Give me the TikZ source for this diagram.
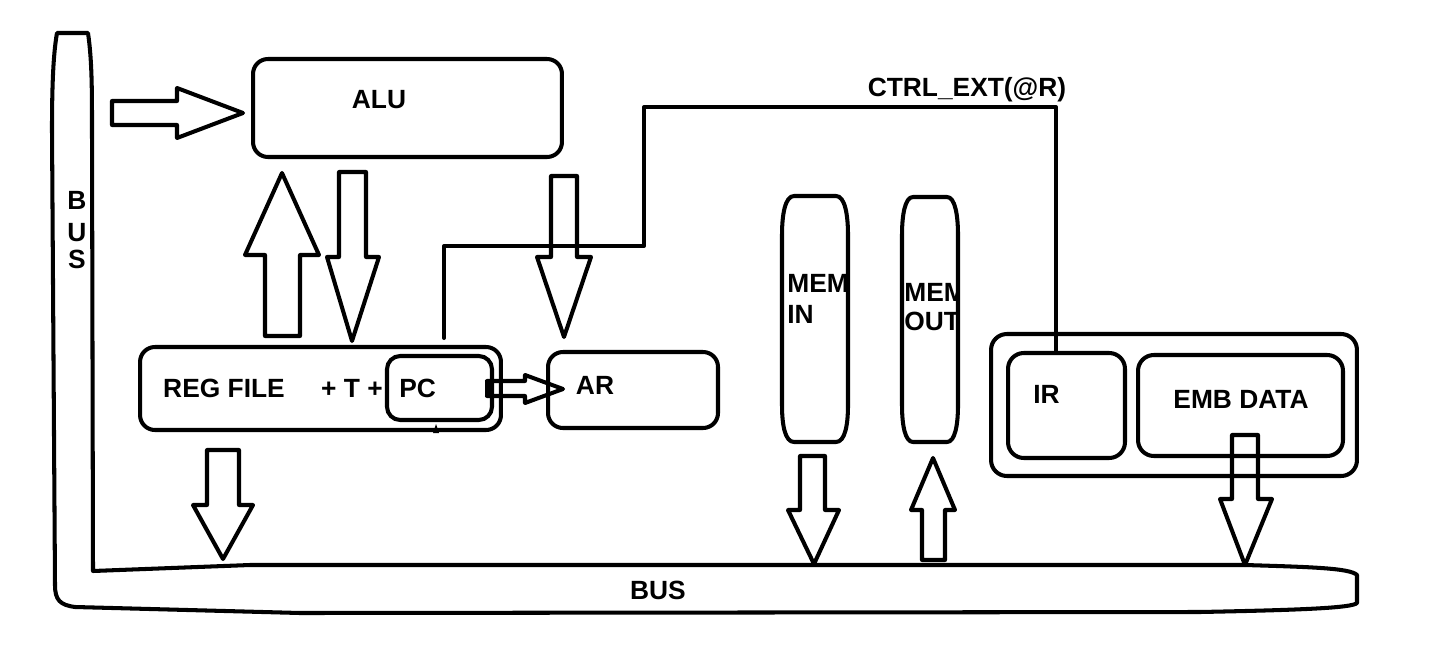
\documentclass[tikz,border=0pt]{standalone}
\usepackage{fontspec}
\setmainfont{Liberation Sans}
\begin{document}
\begin{tikzpicture}[x=0.02cm,y=-0.02cm,
  ln/.style={line width=2.3pt,line join=round,line cap=round},
  barrow/.style={ln},
  box/.style={draw,line width=2.3pt,rounded corners=#1,inner sep=0pt},
  box/.default=8pt,
  lbl/.style={inner sep=0pt,text height=10.7pt,text depth=0pt,font=\fontsize{15}{17}\selectfont\bfseries}]
\useasboundingbox (0,0) rectangle (1454,659);

% ---- bus (L-shaped) ----
\draw[ln] (57,33) -- (88,33) .. controls (92,60) and (92,90) .. (92,130) -- (93,571)
  -- (250,565) -- (1245,565) .. controls (1310,567) and (1350,568) .. (1357,575)
  -- (1357,603) .. controls (1352,608) and (1300,610) .. (1200,612) -- (300,613)
  -- (75,607) .. controls (60,605) and (55,600) .. (55,585) -- (52,130)
  .. controls (52,90) and (53,55) .. (57,33) -- cycle;
\node[lbl] (busB) at (77,200) {B};
\node[lbl] (busU) at (77,232) {U};
\node[lbl] (busS) at (77,259) {S};
\node[lbl] (busbottom) at (658,590) {BUS};

% ---- boxes ----
\node[box=8.5pt,minimum width=6.18cm,minimum height=1.96cm] (alu) at (407.5,108) {};
\node[lbl] (alutext) at (379,99) {ALU};

\node[box=8.5pt,minimum width=7.22cm,minimum height=1.66cm] (reg) at (320.5,388.5) {};
\node[box=7.5pt,minimum width=2.10cm,minimum height=1.28cm] (pc) at (439.5,388) {};
\node[lbl] (regtext) at (224,388) {REG FILE};
\node[lbl] (plus) at (352,388) {+ T +};
\node[lbl,anchor=west] (pctext) at (399,388) {PC};

\node[box=8.5pt,minimum width=3.40cm,minimum height=1.52cm] (ar) at (633,390) {};
\node[lbl] (artext) at (595,385) {AR};

% memory registers (capsule-like outlines)
\node[inner sep=0pt,minimum width=1.32cm,minimum height=4.92cm] (memin) at (815,319) {};
\node[inner sep=0pt,minimum width=1.12cm,minimum height=4.90cm] (memout) at (930,319.5) {};
\draw[ln] (794,196) -- (836,196) .. controls (845,196) and (848,215) .. (848,235) -- (848,405)
  .. controls (848,425) and (845,442) .. (836,442) -- (794,442)
  .. controls (785,442) and (782,425) .. (782,405) -- (782,235)
  .. controls (782,215) and (785,196) .. (794,196) -- cycle;
\draw[ln] (913,197) -- (947,197) .. controls (955,197) and (958,215) .. (958,235) -- (958,405)
  .. controls (958,425) and (955,442) .. (947,442) -- (913,442)
  .. controls (905,442) and (902,425) .. (902,405) -- (902,235)
  .. controls (902,215) and (905,197) .. (913,197) -- cycle;
\begin{scope}
\clip (782,196) rectangle (847,442);
\node[lbl,anchor=west] (memin1) at (787,283) {MEM};
\node[lbl,anchor=west] (memin2) at (787,314) {IN};
\end{scope}
\begin{scope}
\clip (902,197) rectangle (957,442);
\node[lbl,anchor=west] (memout1) at (904,292) {MEM};
\node[lbl,anchor=west] (memout2) at (904,321) {OUT};
\end{scope}

\node[box=9pt,minimum width=7.32cm,minimum height=2.84cm] (grp) at (1174,405) {};
\node[box=9pt,minimum width=2.34cm,minimum height=2.10cm] (ir) at (1066.5,405.5) {};
\node[box=9pt,minimum width=4.10cm,minimum height=2.02cm] (emb) at (1240.5,405.5) {};
\node[lbl,anchor=west] (irtext) at (1033,394) {IR};
\node[lbl] (embtext) at (1241,399) {EMB DATA};

% ---- control line ----
\node[lbl] (ctrl) at (967,87) {CTRL\_EXT(@R)};
\coordinate (c1) at (444,246);
\coordinate (c2) at (644,246);
\coordinate (c3) at (644,107);
\coordinate (c4) at (1056,107);
\draw[ln] (pc.north -| c1) ++(0,-16) -- (c1) -- (c2) -- (c3) -- (c4) -- (c4 |- ir.north);
\fill (433,433) -- (436,424) -- (439,433) -- cycle;

% ---- block arrows ----
% bus -> ALU
\draw[barrow] (112,101) -- (177,101) -- (177,88) -- (243,113) -- (177,138) -- (177,125) -- (112,125) -- cycle;
% REG -> ALU (up)
\draw[barrow] (265,336) -- (265,255) -- (245,255) -- (282,173) -- (319,255) -- (300,255) -- (300,336) -- cycle;
% ALU -> REG (down)
\draw[barrow] (339,172) -- (366,172) -- (366,257) -- (379,257) -- (352,341) -- (327,257) -- (339,257) -- cycle;
% ALU -> AR (down)
\draw[barrow] (551,176) -- (577,176) -- (577,257) -- (591,257) -- (564,337) -- (537,257) -- (551,257) -- cycle;
% PC -> AR
\fill (485,380) rectangle (494,397);
\draw[barrow] (487,381) -- (525,381) -- (525,375) -- (563,389) -- (525,403) -- (525,396) -- (487,396);
% REG -> bus
\draw[barrow] (207,450) -- (239,450) -- (239,505) -- (253,505) -- (223,559) -- (193,505) -- (207,505) -- cycle;
% MEM IN -> bus
\draw[barrow] (800,456) -- (825,456) -- (825,510) -- (839,510) -- (814,564) -- (788,510) -- (800,510) -- cycle;
% bus -> MEM OUT
\draw[barrow] (922,560) -- (922,510) -- (911,510) -- (933,458) -- (955,510) -- (945,510) -- (945,560) -- cycle;
% EMB DATA -> bus
\draw[barrow] (1232,435) -- (1258,435) -- (1258,499) -- (1272,499) -- (1245,565) -- (1220,499) -- (1232,499) -- cycle;
\end{tikzpicture}
\end{document}
